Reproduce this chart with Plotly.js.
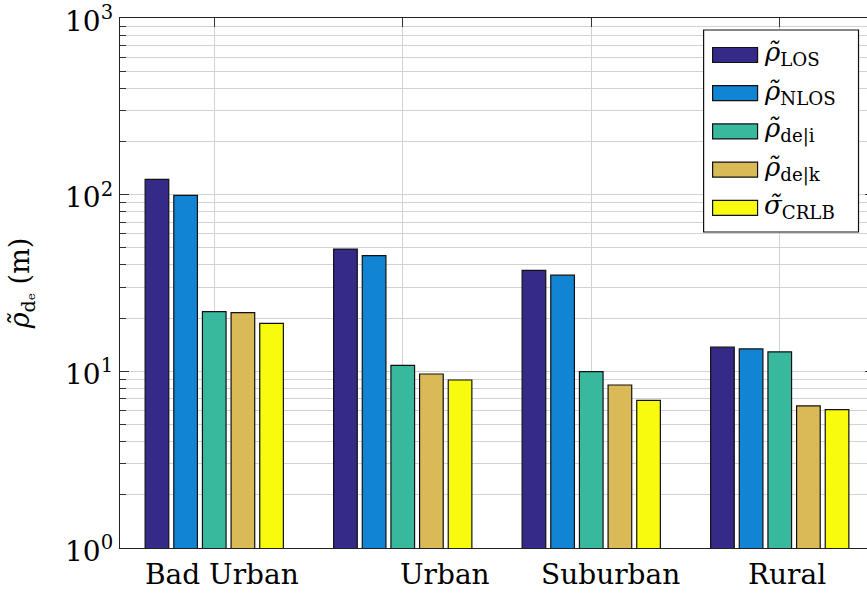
<!DOCTYPE html>
<html>
<head>
<meta charset="utf-8">
<script src="https://cdn.plot.ly/plotly-3.0.1.min.js"></script>
<style>
  html, body { margin: 0; padding: 0; overflow: hidden; background: #fff; }
  #chart { width: 880px; height: 596px; }
</style>
</head>
<body>
<div id="chart"></div>
<script>
// Propagation environments (x categories)
const environments = ['Bad Urban', 'Urban', 'Suburban', 'Rural'];

// Series labels and colours
const seriesNames = [
  '<i>ρ̃</i><sub>LOS</sub>',
  '<i>ρ̃</i><sub>NLOS</sub>',
  '<i>ρ̃</i><sub>de|i</sub>',
  '<i>ρ̃</i><sub>de|k</sub>',
  '<i>σ̃</i><sub>CRLB</sub>'
];
const seriesColors = ['#352a87', '#1284d4', '#38b99e', '#d9ba56', '#f9fb0e'];

// Ranging error per environment (m)
const rhoLOS  = [122, 49.2, 37.3, 13.7];
const rhoNLOS = [99, 45.2, 35.0, 13.4];
const rhoDeI  = [21.8, 10.8, 9.95, 12.9];
const rhoDeK  = [21.5, 9.66, 8.37, 6.37];
const sigmaCRLB = [18.7, 8.93, 6.85, 6.07];

// Y axis tick labels
const yTickVals = [1, 10, 100, 1000];
const yTickText = ['10<sup>0</sup>', '10<sup>1</sup>', '10<sup>2</sup>', '10<sup>3</sup>'];

// Horizontal nudge of each category label (px)
const labelShift = [8, 42, 19, 7];

const allSeries = [rhoLOS, rhoNLOS, rhoDeI, rhoDeK, sigmaCRLB];

const serif = 'DejaVu Serif';
const W = 880, H = 596;
const M = { l: 120, r: 5.5, t: 18, b: 48 };
const plotW = W - M.l - M.r, plotH = H - M.t - M.b;
const px2x = px => (px - M.l) / plotW;
const px2y = py => (H - M.b - py) / plotH;

const traces = allSeries.map((vals, i) => ({
  type: 'bar',
  x: environments,
  y: vals,
  name: seriesNames[i],
  marker: { color: seriesColors[i], line: { color: '#111', width: 1.2 } },
  showlegend: false,
  hoverinfo: 'x+y'
}));

// minor log ticks 2..9 in each decade
const minorVals = [];
for (let d = 1; d <= 100; d *= 10) for (let k = 2; k <= 9; k++) minorVals.push(k * d);

const shapes = [];
const annotations = [];

// legend frame
shapes.push({
  type: 'rect', xref: 'paper', yref: 'paper',
  x0: px2x(704), x1: px2x(859), y0: px2y(232), y1: px2y(30),
  line: { color: '#111', width: 1.2 }, fillcolor: '#fff', layer: 'above'
});
seriesNames.forEach((name, i) => {
  const cy = 55 + 38.2 * i;
  shapes.push({
    type: 'rect', xref: 'paper', yref: 'paper',
    x0: px2x(713), x1: px2x(758), y0: px2y(cy + 7.5), y1: px2y(cy - 7.5),
    line: { color: '#111', width: 1.2 }, fillcolor: seriesColors[i], layer: 'above'
  });
  annotations.push({
    xref: 'paper', yref: 'paper', x: px2x(762), y: px2y(cy - 1),
    xanchor: 'left', yanchor: 'middle', showarrow: false,
    text: name, font: { family: serif, size: 26, color: '#000' }
  });
});

// category labels
environments.forEach((env, i) => {
  annotations.push({
    xref: 'x', yref: 'paper', x: env, y: 0,
    xanchor: 'center', yanchor: 'top', yshift: -8, xshift: labelShift[i],
    showarrow: false, text: env,
    font: { family: serif, size: 28, color: '#000' }
  });
});

const layout = {
  width: W, height: H,
  margin: M,
  paper_bgcolor: '#fff', plot_bgcolor: '#fff',
  barmode: 'group', bargap: 0.24, bargroupgap: 0.175,
  font: { family: serif, color: '#000' },
  xaxis: {
    type: 'category', range: [-0.5, 3.5],
    showticklabels: false,
    showgrid: true, gridcolor: '#d2d2d2', gridwidth: 1,
    ticks: 'inside', ticklen: 9, tickcolor: '#333',
    showline: true, linecolor: '#222', linewidth: 1.3, mirror: 'ticks',
    layer: 'below traces', zeroline: false
  },
  yaxis: {
    type: 'log', range: [0, 3],
    tickmode: 'array', tickvals: yTickVals, ticktext: yTickText,
    tickfont: { family: serif, size: 28, color: '#000' },
    ticklabeloverflow: 'allow', ticklabelshift: 3,
    ticks: 'inside', ticklen: 9, tickcolor: '#333',
    showgrid: true, gridcolor: '#d2d2d2', gridwidth: 1,
    minor: { tickmode: 'array', tickvals: minorVals, ticks: 'inside', ticklen: 6,
             tickcolor: '#333', showgrid: true, gridcolor: '#d2d2d2', gridwidth: 1 },
    showline: true, linecolor: '#222', linewidth: 1.3, mirror: 'ticks',
    layer: 'below traces', zeroline: false,
    title: { text: '<i>ρ̃</i><sub>dₑ</sub> (m)', font: { family: serif, size: 27, color: '#000' }, standoff: 27 },
    automargin: false
  },
  shapes: shapes,
  annotations: annotations
};

Plotly.newPlot('chart', traces, layout, { displayModeBar: false, staticPlot: true });
</script>
</body>
</html>
